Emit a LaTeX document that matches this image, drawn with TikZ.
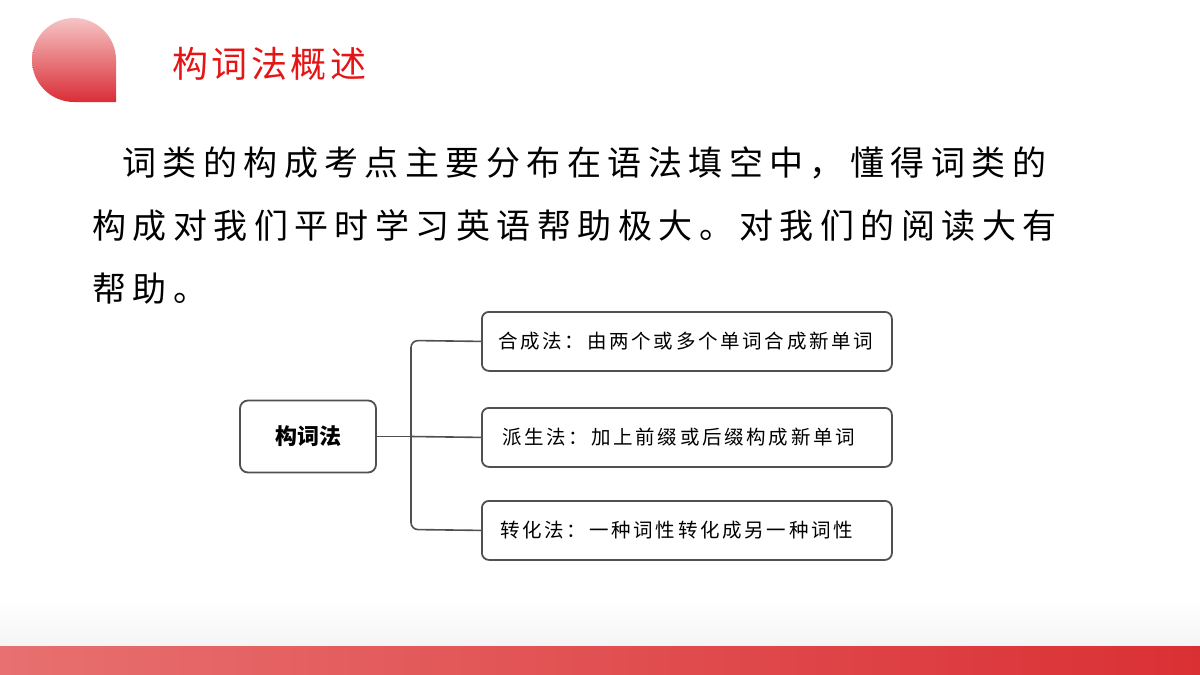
\documentclass[tikz,border=0pt]{standalone}
\usepackage{fontspec}
\setmainfont{Noto Sans CJK SC}
\newfontfamily\cjk{Noto Sans CJK SC}
\newfontfamily\cjkpara[LetterSpace=19]{Noto Sans CJK SC}
\newfontfamily\cjktitle[LetterSpace=10]{Noto Sans CJK SC}
\newfontfamily\cjkbox[LetterSpace=14]{Noto Sans CJK SC}
\usetikzlibrary{shadings}
\definecolor{tred}{RGB}{230,20,20}
\definecolor{pinktop}{RGB}{246,196,196}
\definecolor{redbot}{RGB}{218,45,55}
\definecolor{barl}{RGB}{232,112,112}
\definecolor{barr}{RGB}{218,48,52}
\definecolor{bord}{RGB}{80,80,80}
\begin{document}
\begin{tikzpicture}[x=1pt,y=-1pt,
  para/.style={anchor=base west,inner sep=0pt,font=\fontsize{34}{34}\cjkpara},
  itembox/.style={draw=bord,line width=1.8pt,rounded corners=7pt,minimum width=410pt,minimum height=59pt,anchor=north west,inner sep=0pt},
  itemtext/.style={anchor=west,inner sep=0pt,font=\fontsize{19.5}{20}\cjkbox},
  conn/.style={draw=bord,line width=1.6pt}]
\useasboundingbox (0,0) rectangle (1200,675);
\fill[white] (0,0) rectangle (1200,675);
\shade[top color=white,bottom color=black!4] (0,600) rectangle (1200,646);
\shade[left color=barl,right color=barr] (0,646) rectangle (1200,675);
\shade[top color=pinktop,bottom color=redbot] (116,102) [rounded corners=42pt] -- (32,102) -- (32,18) -- (116,18) [sharp corners] -- cycle;
\node[anchor=west,inner sep=0pt,text=tred,font=\fontsize{36}{36}\cjktitle] (title) at (172,64) {构词法概述};
\node[para] (l1) at (122,175) {词类的构成考点主要分布在语法填空中，懂得词类的};
\node[para] (l2) at (92,238) {构成对我们平时学习英语帮助极大。对我们的阅读大有};
\node[para] (l3) at (92,301) {帮助。};
\node[draw=bord,line width=1.8pt,rounded corners=8pt,minimum width=136pt,minimum height=72pt,inner sep=0pt,font=\fontsize{22}{22}\bfseries\cjk] (main) at (308,436.5) {构词法};
\node[itembox] (b1) at (481,311) {};
\node[itembox] (b2) at (481,407) {};
\node[itembox] (b3) at (481,500) {};
\node[itemtext] (t1) at (498,341) {合成法：由两个或多个单词合成新单词};
\node[itemtext] (t2) at (502,437) {派生法：加上前缀或后缀构成新单词};
\node[itemtext] (t3) at (500,530) {转化法：一种词性转化成另一种词性};
\coordinate (j) at (411,436.5);
\draw[conn] (main.east) -- (j);
\draw[conn,rounded corners=7pt] (b1.west) -- (411,340.5) -- (411,529.5) -- (b3.west);
\draw[conn] (j) -- (b2.west);
\end{tikzpicture}
\end{document}
